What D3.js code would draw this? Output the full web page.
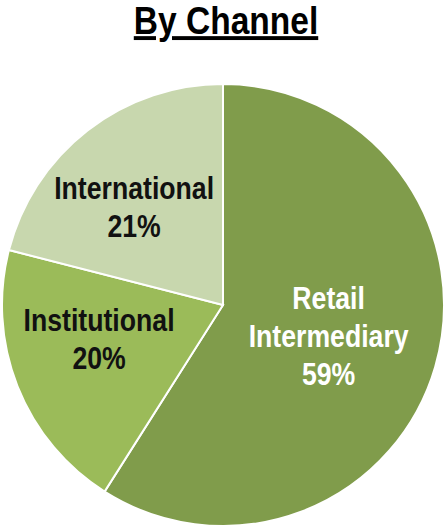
<!DOCTYPE html>
<html>
<head>
<meta charset="utf-8">
<script src="https://cdn.jsdelivr.net/npm/d3@7"></script>
<style>
  body { margin: 0; background: white; }
  text { font-family: "Liberation Sans", Arial, sans-serif; font-weight: bold; }
</style>
</head>
<body>
<div id="chart"></div>
<script>
var channels = ["Retail Intermediary", "Institutional", "International"];
var shares = [59, 20, 21];
var labelLines = [["Retail", "Intermediary", "59%"], ["Institutional", "20%"], ["International", "21%"]];
var colors = ["#809c4b", "#9bbb59", "#c8d7ae"];
var textColors = ["white", "#111", "#111"];

var width = 446, height = 530;
var cx = 223, cy = 305, radius = 221;
var narrow = 0.86; // fake an Arial Narrow look

var svg = d3.select("#chart").append("svg")
    .attr("width", width)
    .attr("height", height);

svg.append("text")
    .attr("transform", "translate(226,34) scale(" + narrow + ",1)")
    .attr("text-anchor", "middle")
    .style("font-size", "39px")
    .style("text-decoration", "underline")
    .text("By Channel");

var pie = d3.pie().sort(null).value(d => d);
var arcs = pie(shares);

var arc = d3.arc().innerRadius(0).outerRadius(radius);

// label ring radius and small nudges per slice
var labelR = [110, 129, 132];
var nudge = [[0, 0], [-4, -13], [-8, 6]];

var g = svg.append("g")
    .attr("transform", "translate(" + cx + "," + cy + ")");

g.selectAll("path")
    .data(arcs)
    .enter()
    .append("path")
    .attr("d", arc)
    .attr("fill", (d, i) => colors[i])
    .attr("stroke", "white")
    .attr("stroke-width", 2);

var lineH = 38;

var label = g.selectAll("g.label")
    .data(arcs)
    .enter()
    .append("g")
    .attr("class", "label")
    .attr("transform", function(d, i) {
        var c = d3.arc().innerRadius(labelR[i]).outerRadius(labelR[i]).centroid(d);
        return "translate(" + (c[0] + nudge[i][0]) + "," + (c[1] + nudge[i][1]) + ") scale(" + narrow + ",1)";
    });

label.each(function(d, i) {
    var lines = labelLines[i];
    var t = d3.select(this).append("text")
        .attr("text-anchor", "middle")
        .style("font-size", "31px")
        .attr("fill", textColors[i]);
    lines.forEach(function(s, j) {
        t.append("tspan")
            .attr("x", 0)
            .attr("y", (j - (lines.length - 1) / 2) * lineH + 11)
            .text(s);
    });
});
</script>
</body>
</html>
